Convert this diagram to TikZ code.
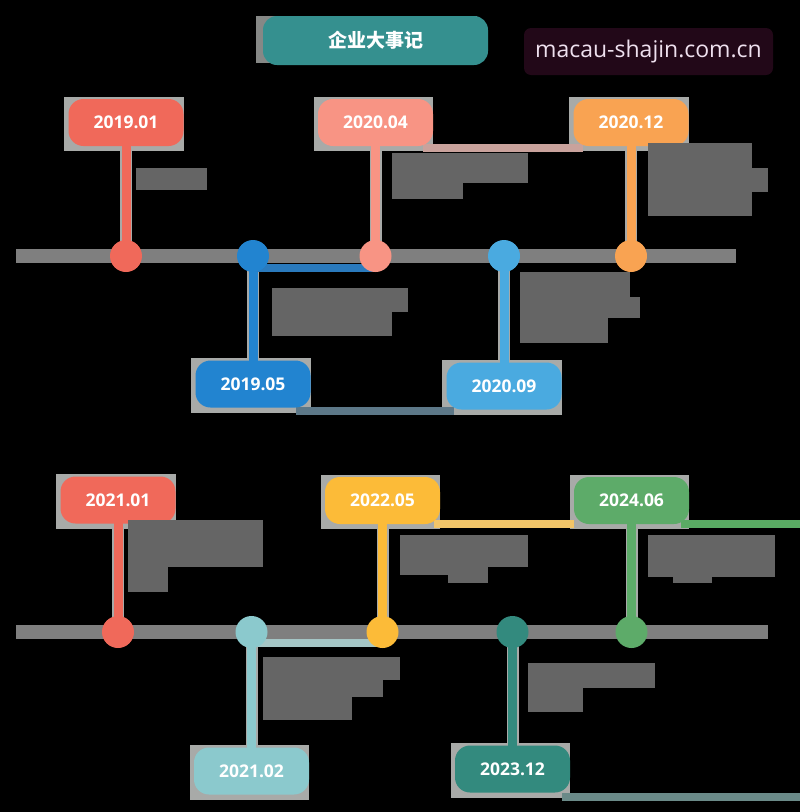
\documentclass[tikz,border=0pt]{standalone}
\usepackage{fontspec}
\setmainfont{Open Sans}
\newfontfamily\cjk{Noto Sans CJK SC}
\pgfdeclarelayer{bg}
\pgfsetlayers{bg,main}
\definecolor{cRed}{HTML}{F0695A}
\definecolor{cSalmon}{HTML}{F89484}
\definecolor{cOrange}{HTML}{F9A352}
\definecolor{cBlue}{HTML}{2284D0}
\definecolor{cSky}{HTML}{4AAAE0}
\definecolor{cAqua}{HTML}{8BC9CD}
\definecolor{cYellow}{HTML}{FCBB38}
\definecolor{cTeal}{HTML}{338A7E}
\definecolor{cGreen}{HTML}{5DAB69}
\definecolor{cTitle}{HTML}{35908F}
\definecolor{wmBg}{HTML}{220818}
\definecolor{wmText}{HTML}{EEE0EE}
\definecolor{axisGray}{HTML}{7F7F7F}
\definecolor{blockGray}{HTML}{656565}
\definecolor{haloGray}{HTML}{A8AAA8}
\definecolor{lnTan}{HTML}{C9A29C}
\definecolor{lnSlate}{HTML}{5D7888}
\definecolor{lnBlue}{HTML}{2A7ABD}
\definecolor{lnYellow}{HTML}{F2C568}
\definecolor{lnGreen}{HTML}{5AAB64}
\definecolor{lnAqua}{HTML}{A5C6C6}
\definecolor{lnSea}{HTML}{6A8A88}
\begin{document}
\begin{tikzpicture}[x=1pt,y=-1pt,
  date/.style={rounded corners=15pt,minimum width=115pt,minimum height=47pt,inner sep=0pt,text=white,font=\fontsize{17.5}{20}\selectfont\bfseries},
  dot/.style={circle,minimum size=32pt,inner sep=0pt},
  stem/.style={line width=9pt,shorten <=-3pt,shorten >=-3pt},
  halo/.style={line width=12pt,haloGray,shorten <=-3pt,shorten >=-3pt},
  link/.style={line width=8pt},
  axis/.style={line width=14pt,axisGray},
  blk/.style={fill=blockGray},
  title/.style={fill=cTitle,rounded corners=14pt,minimum width=225pt,minimum height=49pt,text=white,font=\fontsize{19}{22}\selectfont},
  wmark/.style={fill=wmBg,rounded corners=7pt,minimum width=249pt,minimum height=47pt,text=wmText,font=\fontsize{23}{26}\selectfont}]
  % header
  \node[title] (ttl) at (375.5,40.5) {\cjk\bfseries 企业大事记};
  \node[wmark] (site) at (648.5,51.5) {macau-shajin.com.cn};
  % first line
  \node[date,fill=cRed] (d1901) at (126,122.5) {2019.01};
  \node[date,fill=cBlue] (d1905) at (253,384) {2019.05};
  \node[date,fill=cSalmon] (d2004) at (375.5,122.5) {2020.04};
  \node[date,fill=cSky] (d2009) at (504,386) {2020.09};
  \node[date,fill=cOrange] (d2012) at (631,122.5) {2020.12};
  \node[dot,fill=cRed] (p1901) at (126,256) {};
  \node[dot,fill=cBlue] (p1905) at (253,256) {};
  \node[dot,fill=cSalmon] (p2004) at (375.5,256) {};
  \node[dot,fill=cSky] (p2009) at (504,256) {};
  \node[dot,fill=cOrange] (p2012) at (631,256) {};
  % second line
  \node[date,fill=cRed] (d2101) at (118,500) {2021.01};
  \node[date,fill=cAqua] (d2102) at (251.5,771) {2021.02};
  \node[date,fill=cYellow] (d2205) at (382.5,500.5) {2022.05};
  \node[date,fill=cTeal] (d2312) at (512.5,769) {2023.12};
  \node[date,fill=cGreen] (d2406) at (631.5,500.5) {2024.06};
  \node[dot,fill=cRed] (p2101) at (118,632) {};
  \node[dot,fill=cAqua] (p2102) at (251.5,632) {};
  \node[dot,fill=cYellow] (p2205) at (382.5,632) {};
  \node[dot,fill=cTeal] (p2312) at (512.5,632) {};
  \node[dot,fill=cGreen] (p2406) at (631.5,632) {};
  \coordinate (a1s) at (16,256); \coordinate (a1e) at (736,256);
  \coordinate (a2s) at (16,632); \coordinate (a2e) at (768,632);
  \coordinate (gEnd) at (800,523.5); \coordinate (sEnd) at (800,796.5);
  % text blocks
  \fill[blk] (136,168) rectangle (207,190);
  \fill[blk] (392,153) rectangle (528,183); \fill[blk] (392,183) rectangle (463,199);
  \fill[blk] (648,143) rectangle (752,216); \fill[blk] (752,168) rectangle (768,192);
  \fill[blk] (272,288) rectangle (408,312); \fill[blk] (272,312) rectangle (392,336);
  \fill[blk] (520,272) rectangle (630,297); \fill[blk] (520,297) rectangle (640,318); \fill[blk] (520,318) rectangle (608,343);
  \fill[blk] (128,520) rectangle (263,567); \fill[blk] (128,567) rectangle (168,592);
  \fill[blk] (263,657) rectangle (400,680); \fill[blk] (263,680) rectangle (383,697); \fill[blk] (263,697) rectangle (352,720);
  \fill[blk] (400,535) rectangle (528,567); \fill[blk] (400,567) rectangle (488,575); \fill[blk] (448,575) rectangle (488,583);
  \fill[blk] (528,663) rectangle (655,688); \fill[blk] (528,688) rectangle (583,712);
  \fill[blk] (648,535) rectangle (775,577); \fill[blk] (673,577) rectangle (712,583);
  \begin{pgfonlayer}{bg}
    \fill[black] (0,0) rectangle (800,812);
    \fill[haloGray!80!black] ([shift={(-7,0)}]ttl.north west) rectangle ([shift={(-11,-2)}]ttl.south east);
    \foreach \n in {d1901,d1905,d2004,d2009,d2012,d2101,d2102,d2205,d2312,d2406}
      \fill[haloGray] ([shift={(-4,-2)}]\n.north west) rectangle ([shift={(0,5)}]\n.south east);
    \draw[axis] (a1s) -- (a1e);
    \draw[axis] (a2s) -- (a2e);
    \foreach \n in {1901,1905,2004,2009,2012,2101,2102,2205,2312,2406}
      \draw[halo] (d\n) -- (p\n);
    \draw[stem,cRed] (d1901) -- (p1901);
    \draw[stem,cBlue] (d1905) -- (p1905);
    \draw[stem,cSalmon] (d2004) -- (p2004);
    \draw[stem,cSky] (d2009) -- (p2009);
    \draw[stem,cOrange] (d2012) -- (p2012);
    \draw[stem,cRed] (d2101) -- (p2101);
    \draw[stem,cAqua] (d2102) -- (p2102);
    \draw[stem,cYellow] (d2205) -- (p2205);
    \draw[stem,cTeal] (d2312) -- (p2312);
    \draw[stem,cGreen] (d2406) -- (p2406);
    % links
    \draw[link,lnTan] ([shift={(-10,2)}]d2004.south east) -- ([shift={(10,2)}]d2012.south west);
    \draw[link,lnBlue] ([yshift=-12pt]p1905.center) -- ([yshift=-12pt]p2004.center);
    \draw[link,lnSlate] ([shift={(-15,3.5)}]d1905.south east) -- ([yshift=-3.5pt]d1905.south east -| d2009.west) -- ++(8,0);
    \draw[link,lnYellow] ([shift={(-6,-0.5)}]d2205.south east) -- ([shift={(0,-0.5)}]d2406.south west);
    \draw[link,lnGreen] (gEnd -| d2406.east) ++(-8,0) -- (gEnd);
    \draw[link,lnAqua] ([yshift=-11pt]p2102.center) -- ([yshift=-11pt]p2205.center);
    \draw[link,lnSea] (sEnd -| d2312.east) ++(-8,0) -- (sEnd);
  \end{pgfonlayer}
\end{tikzpicture}
\end{document}
